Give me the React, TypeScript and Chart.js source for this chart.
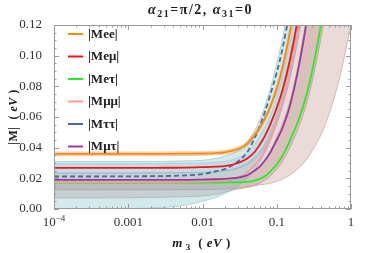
import React, { useEffect, useRef } from "react";
import { Chart, registerables } from "chart.js";
Chart.register(...registerables);

// m3 grid (eV)
const m3 = [1e-4, 3e-4, 1e-3, 3e-3, 0.006, 0.01, 0.015, 0.02, 0.03, 0.04, 0.05, 0.06, 0.07, 0.08, 0.1, 0.12, 0.15, 0.2, 0.25, 0.3, 0.4, 0.5, 0.7, 1.0];

// central curves
const mee = [0.036, 0.036, 0.036, 0.036, 0.0361, 0.0362, 0.0365, 0.037, 0.039, 0.0425, 0.048, 0.0535, 0.0595, 0.0655, 0.0785, 0.0925, 0.115, 0.152];
const meu = [0.0268, 0.0268, 0.0268, 0.0269, 0.027, 0.0273, 0.0276, 0.028, 0.030, 0.033, 0.037, 0.0425, 0.048, 0.054, 0.066, 0.078, 0.097, 0.129, 0.16];
const met = [0.0172, 0.0172, 0.0172, 0.0172, 0.0172, 0.0172, 0.0172, 0.0173, 0.0174, 0.0177, 0.0185, 0.0198, 0.0215, 0.024, 0.029, 0.035, 0.0445, 0.059, 0.074, 0.09, 0.122, 0.152];
const mmm = [0.0175, 0.0175, 0.0175, 0.0176, 0.0177, 0.0179, 0.0182, 0.0187, 0.0205, 0.024, 0.0285, 0.033, 0.039, 0.045, 0.058, 0.07, 0.089, 0.12, 0.15];
const mtt = [0.0212, 0.0212, 0.0213, 0.0215, 0.0219, 0.0228, 0.0245, 0.026, 0.031, 0.037, 0.046, 0.055, 0.064, 0.073, 0.089, 0.105, 0.13, 0.17];
const mmt = [0.019, 0.019, 0.019, 0.019, 0.019, 0.0192, 0.0194, 0.0197, 0.0205, 0.022, 0.025, 0.028, 0.032, 0.036, 0.045, 0.053, 0.067, 0.094, 0.121, 0.148];

// bands (upper / lower)
const meeHi = [0.0372, 0.0372, 0.0372, 0.0372, 0.0373, 0.0374, 0.0377, 0.0383, 0.0405, 0.044, 0.0495, 0.055, 0.061, 0.067, 0.0805, 0.095, 0.118, 0.156];
const meeLo = [0.0348, 0.0348, 0.0348, 0.0348, 0.0349, 0.035, 0.0353, 0.0357, 0.0375, 0.041, 0.0465, 0.052, 0.058, 0.064, 0.0765, 0.09, 0.112, 0.148];
const meuHi = [0.0295, 0.0295, 0.0295, 0.0296, 0.0298, 0.030, 0.0305, 0.031, 0.0335, 0.037, 0.042, 0.048, 0.054, 0.06, 0.073, 0.087, 0.108, 0.142, 0.176];
const meuLo = [0.0235, 0.0235, 0.0235, 0.0236, 0.0237, 0.024, 0.0243, 0.0247, 0.0265, 0.029, 0.032, 0.0365, 0.041, 0.0465, 0.057, 0.068, 0.085, 0.114, 0.143];
const mttHi = [0.031, 0.031, 0.031, 0.0311, 0.0314, 0.0318, 0.033, 0.0345, 0.038, 0.044, 0.051, 0.059, 0.068, 0.077, 0.095, 0.112, 0.138, 0.178, 0.22];
const mttLo = [0, 0, 0.0003, 0.001, 0.0025, 0.005, 0.0075, 0.010, 0.015, 0.02, 0.025, 0.031, 0.037, 0.043, 0.055, 0.067, 0.085, 0.115, 0.145];
const mmtHi = [0.0235, 0.0235, 0.0235, 0.0236, 0.0236, 0.0237, 0.0243, 0.025, 0.027, 0.030, 0.034, 0.038, 0.043, 0.049, 0.062, 0.075, 0.094, 0.126, 0.157, 0.19, 0.25, 0.31];
const mmtLo = [0.0125, 0.0125, 0.0125, 0.0125, 0.0126, 0.0126, 0.0128, 0.013, 0.0135, 0.0145, 0.0155, 0.017, 0.019, 0.021, 0.026, 0.031, 0.040, 0.054, 0.068, 0.083, 0.113, 0.142];
const metHi = [0.0175, 0.0175, 0.0175, 0.0176, 0.0176, 0.0177, 0.018, 0.0185, 0.0197, 0.0215, 0.0245, 0.028, 0.0325, 0.037, 0.047, 0.056, 0.07, 0.097, 0.124, 0.15, 0.2, 0.25, 0.35, 0.5];
const metLo = [0.0072, 0.0072, 0.0073, 0.0076, 0.008, 0.0085, 0.0095, 0.011, 0.013, 0.014, 0.015, 0.0158, 0.0162, 0.0166, 0.018, 0.0195, 0.022, 0.027, 0.032, 0.038, 0.049, 0.061, 0.085, 0.12];

const legendLabels = ["|Mee|", "|Meμ|", "|Meτ|", "|Mμμ|", "|Mττ|", "|Mμτ|"];
const colors = ["#FF8A00", "#FF1010", "#22EE22", "#FF9A9A", "#4A6A9E", "#9A3A9E"];
const xTicks = [1e-4, 1e-3, 1e-2, 1e-1, 1];
const xTickLabels = ["10", "0.001", "0.01", "0.1", "1"];
const yTicks = [0, 0.02, 0.04, 0.06, 0.08, 0.1, 0.12];

const SERIF = "'Liberation Serif', 'Times New Roman', serif";

function drawRich(ctx: CanvasRenderingContext2D, segs: { t: string; f: string; dy?: number }[], cx: number, by: number, spacing = 0) {
  (ctx as any).letterSpacing = spacing + "px";
  let w = 0;
  for (const s of segs) { ctx.font = s.f; w += ctx.measureText(s.t).width; }
  let x = cx - w / 2;
  ctx.textAlign = "left";
  ctx.textBaseline = "alphabetic";
  for (const s of segs) {
    ctx.font = s.f;
    ctx.fillText(s.t, x, by + (s.dy || 0));
    x += ctx.measureText(s.t).width;
  }
  (ctx as any).letterSpacing = "0px";
}

export default function App() {
  const ref = useRef<HTMLCanvasElement>(null);
  useEffect(() => {
    const canvas = ref.current!;
    const pts = (arr: number[]) => arr.map((y, i) => ({ x: m3[i], y }));
    const line = (label: string, data: number[], color: string, dash: number[] = []) => ({
      label, data: pts(data), borderColor: color, borderWidth: 1.8, borderDash: dash,
      pointRadius: 0, fill: false, cubicInterpolationMode: "monotone", order: 0,
    });
    const band = (hi: number[], lo: number[], fillColor: string, edge: string) => [
      { label: "", data: pts(hi), borderColor: edge, borderWidth: 0.8, pointRadius: 0, fill: "+1", backgroundColor: fillColor, cubicInterpolationMode: "monotone", order: 1 },
      { label: "", data: pts(lo), borderColor: edge, borderWidth: 0.8, pointRadius: 0, fill: false, cubicInterpolationMode: "monotone", order: 1 },
    ];

    const datasets: any[] = [
      line(legendLabels[0], mee, colors[0]),
      line(legendLabels[1], meu, colors[1]),
      line(legendLabels[4], mtt, colors[4], [5, 3]),
      line(legendLabels[5], mmt, colors[5]),
      line(legendLabels[3], mmm, colors[3]),
      line(legendLabels[2], met, colors[2]),
      ...band(meeHi, meeLo, "rgba(235,160,110,0.35)", "rgba(220,150,100,0.5)"),
      ...band(meuHi, meuLo, "rgba(150,185,210,0.28)", "rgba(130,170,200,0.45)"),
      ...band(mttHi, mttLo, "rgba(110,185,195,0.30)", "rgba(90,165,180,0.5)"),
      ...band(mmtHi, mmtLo, "rgba(160,90,80,0.22)", "rgba(160,100,95,0.45)"),
      ...band(metHi, metLo, "rgba(160,90,80,0.22)", "rgba(160,100,95,0.45)"),
    ];

    const deco = {
      id: "deco",
      afterDraw(chart: any) {
        const ctx: CanvasRenderingContext2D = chart.ctx;
        const { left, right, top, bottom } = chart.chartArea;
        const xs = chart.scales.x, ys = chart.scales.y;
        ctx.save();
        // frame
        ctx.strokeStyle = "#9a9a9a";
        ctx.lineWidth = 1;
        ctx.strokeRect(left + 0.5, top + 0.5, right - left - 1, bottom - top - 1);
        // x ticks
        ctx.beginPath();
        for (let d = -4; d <= 0; d++) {
          for (let k = 1; k <= 9; k++) {
            const v = k * Math.pow(10, d);
            if (v > 1.0001) break;
            const px = Math.round(xs.getPixelForValue(v)) + 0.5;
            const len = k === 1 ? 5 : 2.5;
            ctx.moveTo(px, bottom); ctx.lineTo(px, bottom - len);
            ctx.moveTo(px, top); ctx.lineTo(px, top + len);
          }
        }
        // y ticks
        for (let i = 0; i <= 24; i++) {
          const v = i * 0.005;
          const py = Math.round(ys.getPixelForValue(v)) + 0.5;
          const len = i % 4 === 0 ? 5 : 2.5;
          ctx.moveTo(left, py); ctx.lineTo(left + len, py);
          ctx.moveTo(right, py); ctx.lineTo(right - len, py);
        }
        ctx.stroke();

        ctx.fillStyle = "#333";
        // x tick labels
        xTicks.forEach((v, i) => {
          const px = xs.getPixelForValue(v);
          if (i === 0) {
            drawRich(ctx, [
              { t: "10", f: `13px ${SERIF}` },
              { t: "−4", f: `9px ${SERIF}`, dy: -5 },
            ], px, 226);
          } else {
            drawRich(ctx, [{ t: xTickLabels[i], f: `13px ${SERIF}` }], px, 226);
          }
        });

        ctx.fillStyle = "#222";
        // title
        const B = `bold 14px ${SERIF}`, BI = `italic bold 14px ${SERIF}`, BS = `bold 10px ${SERIF}`;
        drawRich(ctx, [
          { t: "α", f: BI }, { t: "21", f: BS, dy: 3 }, { t: "=π/2,", f: B }, { t: " ", f: B },
          { t: "α", f: BI }, { t: "31", f: BS, dy: 3 }, { t: "=0", f: B },
        ], (left + right) / 2 - 2, 14, 1.5);
        // x title
        const B13 = `bold 13px ${SERIF}`, BI13 = `italic bold 13px ${SERIF}`, BS9 = `bold 9px ${SERIF}`;
        drawRich(ctx, [
          { t: "m", f: BI13 }, { t: " 3", f: BS9, dy: 3 }, { t: "  ( ", f: B13 }, { t: "eV", f: BI13 }, { t: " )", f: B13 },
        ], (left + right) / 2 - 1, 247, 0.5);
        // y title
        ctx.save();
        ctx.translate(17, (top + bottom) / 2);
        ctx.rotate(-Math.PI / 2);
        drawRich(ctx, [{ t: "|M|  ( ", f: `bold 12px ${SERIF}` }, { t: "eV", f: `italic bold 12px ${SERIF}` }, { t: " )", f: `bold 12px ${SERIF}` }], 0, 0, 0.5);
        ctx.restore();

        // legend
        legendLabels.forEach((lab, i) => {
          const y = top + 9 + i * 22.5;
          ctx.strokeStyle = colors[i];
          ctx.lineWidth = 2;
          ctx.beginPath();
          ctx.moveTo(68, y); ctx.lineTo(83, y);
          ctx.stroke();
          ctx.fillStyle = "#222";
          ctx.font = `bold 13px ${SERIF}`;
          ctx.textAlign = "left";
          ctx.textBaseline = "middle";
          ctx.fillText(lab, 88, y + 0.5);
        });
        ctx.restore();
      },
    };

    const chart = new Chart(canvas, {
      type: "line",
      data: { datasets },
      options: {
        animation: false,
        responsive: false,
        devicePixelRatio: 1,
        layout: { padding: { top: 25, right: 23, left: 0, bottom: 0 } },
        plugins: { legend: { display: false }, tooltip: { enabled: false }, title: { display: false } },
        scales: {
          x: {
            type: "logarithmic", min: 1e-4, max: 1,
            afterBuildTicks: (s: any) => { s.ticks = xTicks.map((v) => ({ value: v })); },
            ticks: { display: false },
            grid: { display: false },
            border: { display: false },
            afterFit: (s: any) => { s.height = 44; },
          },
          y: {
            min: 0, max: 0.12,
            afterBuildTicks: (s: any) => { s.ticks = yTicks.map((v) => ({ value: v })); },
            ticks: { callback: (v: any) => Number(v).toFixed(2), font: { family: SERIF, size: 13 }, color: "#333", padding: 4 },
            grid: { display: false },
            border: { display: false },
            afterFit: (s: any) => { s.width = 54; },
          },
        },
      } as any,
      plugins: [deco],
    });
    return () => chart.destroy();
  }, []);

  return (
    <div style={{ position: "fixed", left: 0, top: 0, width: 374, height: 253, background: "#fff" }}>
      <canvas ref={ref} width={374} height={253} style={{ display: "block" }} />
    </div>
  );
}
